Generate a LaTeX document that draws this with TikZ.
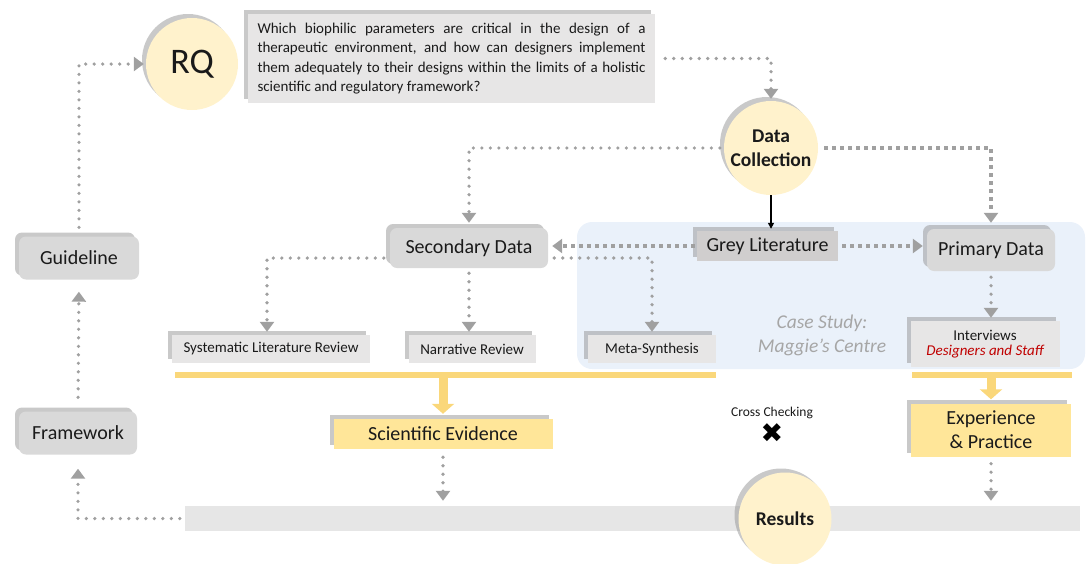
\documentclass[tikz,border=0pt]{standalone}
\usepackage{fontspec}
\setmainfont{Carlito}
\newfontfamily\symfont{DejaVu Sans}
\usetikzlibrary{arrows.meta,shadows,calc}
\definecolor{cream}{HTML}{FFF2CC}
\definecolor{boxgrey}{HTML}{D9D9D9}
\definecolor{lightgrey}{HTML}{E7E6E6}
\definecolor{glgrey}{HTML}{D0CECE}
\definecolor{bluebg}{HTML}{EAF1FA}
\definecolor{ybox}{HTML}{FFE699}
\definecolor{ybar}{HTML}{FAD77A}
\definecolor{dotgrey}{HTML}{A0A0A0}
\definecolor{barfill}{HTML}{E6E6E6}
\definecolor{casegrey}{HTML}{A6A6A6}
\definecolor{redtxt}{HTML}{C00000}
\definecolor{txt}{HTML}{1A1A1A}
\begin{document}
\begin{tikzpicture}[x=1pt,y=-1pt,
  shad/.style={drop shadow={shadow xshift=-4pt, shadow yshift=4pt, opacity=.5, fill=gray!85}},
  circ/.style={circle, fill=cream, shad, align=center, inner sep=0pt, text=txt},
  rbox/.style={rounded corners=7pt, fill=boxgrey, shad, text=txt, inner sep=0pt, font=\fontsize{20}{22}\selectfont},
  lbox/.style={rectangle, fill=lightgrey, shad, text=txt, inner sep=0pt, font=\fontsize{15}{18}\selectfont},
  ylbox/.style={rectangle, fill=ybox, shad, text=txt, inner sep=0pt, align=center, font=\fontsize{20}{24}\selectfont},
  dotline/.style={draw=dotgrey, line width=3.6pt, line cap=round, dash pattern=on 0pt off 8.5pt},
  sqline/.style={draw=dotgrey, line width=4pt, dash pattern=on 4pt off 4pt},
  tip/.style={-{Triangle[width=14pt,length=10pt]}},
  yarrow/.style={draw=ybar, line width=9pt, -{Triangle[width=22pt,length=10pt]}}
]
\useasboundingbox (0,0) rectangle (1086,563);

% light blue case-study region
\fill[bluebg, rounded corners=15pt] (577,222) rectangle (1085,369);
\node[text=casegrey, align=center, font=\fontsize{19.5}{24}\selectfont\itshape] (cs) at (822,335) {Case Study:\\Maggie’s Centre};

% RQ and question
\node[circ, minimum size=92pt, font=\fontsize{36}{40}\selectfont] (rq) at (192,64) {RQ};
\node[rectangle, fill=lightgrey, shad, text=txt, minimum width=407pt, minimum height=89pt, inner xsep=9.5pt, text width=388pt, align=justify, font=\fontsize{15}{19.5}\selectfont] (q) at (451.5,58.5)
 {Which biophilic parameters are critical in the design of a\linebreak therapeutic environment, and how can designers implement\linebreak them adequately to their designs within the limits of a holistic\linebreak scientific and regulatory framework?};

% Data collection
\node[circ, minimum size=94pt, font=\fontsize{19.5}{24}\selectfont\bfseries] (dc) at (771,148) {Data\\Collection};

% second row
\node[rbox, minimum width=158pt, minimum height=40pt] (sd) at (469,248) {Secondary Data};
\node[rectangle, fill=glgrey, shad, text=txt, inner sep=0pt, minimum width=141pt, minimum height=30pt, font=\fontsize{20}{22}\selectfont] (gl) at (767.5,246) {Grey Literature};
\node[rbox, minimum width=128pt, minimum height=42pt] (pd) at (991,250) {Primary Data};

% third row
\node[lbox, minimum width=198pt, minimum height=28pt] (slr) at (271,349) {Systematic Literature Review};
\node[lbox, minimum width=127pt, minimum height=28pt] (nr) at (472,349) {Narrative Review};
\node[lbox, minimum width=128pt, minimum height=28pt] (ms) at (652,349) {Meta-Synthesis};
\node[lbox, minimum width=149pt, minimum height=46pt, align=center, font=\fontsize{15}{18}\selectfont] (iv) at (985,344) {\raisebox{-3pt}{Interviews}\\{\color{redtxt}\itshape Designers and Staff}};

% yellow bars
\node[rectangle, fill=ybar, inner sep=0pt, minimum width=541pt, minimum height=6pt] (bar1) at (445.5,375) {};
\node[rectangle, fill=ybar, inner sep=0pt, minimum width=160pt, minimum height=6pt] (bar2) at (992,375) {};

% evidence boxes
\node[ylbox, minimum width=219pt, minimum height=30pt] (se) at (443,434) {Scientific Evidence};
\node[ylbox, minimum width=160pt, minimum height=53pt] (ep) at (991,430) {Experience\\\& Practice};

% cross checking
\node[text=txt, font=\fontsize{13.5}{15}\selectfont] (cc) at (772,413) {Cross Checking};
\node[text=black, font=\symfont\fontsize{27}{28}\selectfont] (cx) at (772,433) {✖};

% results bar and circle
\node[rectangle, fill=barfill, inner sep=0pt, minimum width=895pt, minimum height=25pt] (bar) at (632.5,518.5) {};
\node[circ, minimum size=93pt, font=\fontsize{19.5}{22}\selectfont\bfseries] (res) at (785,519) {Results};

% left column
\node[rbox, minimum width=120pt, minimum height=43pt] (gd) at (79,258) {Guideline};
\node[rbox, minimum width=118pt, minimum height=43pt] (fw) at (78,433) {Framework};

% connectors
\draw[dotline, tip, shorten <=9pt, shorten >=2pt] (gd.north) |- (rq.west);
\draw[dotline, tip, shorten <=10pt, shorten >=2pt] (q.east) -| (dc.north);
\draw[dotline, tip, shorten <=4pt, shorten >=5pt] (dc.west) -| (sd.north);
\draw[sqline, tip, shorten <=6pt, shorten >=6pt] (dc.east) -| (pd.north);
\draw[black, line width=1.4pt, -{Triangle[width=6pt,length=6pt]}, shorten >=2pt] (dc.south) -- (dc.south |- gl.north);
\draw[sqline, tip, shorten <=2pt, shorten >=4pt] (gl.west) -- (gl.west -| sd.east);
\draw[sqline, tip, shorten <=4pt, shorten >=4pt] (gl.east) -- (gl.east -| pd.west);
\draw[dotline, tip, shorten <=6pt, shorten >=3pt] ([yshift=-10pt]sd.east) -| (ms.north);
\draw[dotline, tip, shorten <=6pt, shorten >=3pt] ([yshift=-10pt]sd.west) -| ([xshift=-4pt]slr.north);
\draw[dotline, tip, shorten <=5pt, shorten >=3pt] (sd.south) -- (sd.south |- nr.north);
\draw[dotline, tip, shorten <=6pt, shorten >=3pt] (pd.south) -- (pd.south |- iv.north);
\draw[yarrow] (bar1.south -| se.north) -- ([yshift=5pt]se.north);
\draw[yarrow] (bar2.south -| ep.north) -- ([yshift=4pt]ep.north);
\draw[dotline, tip, shorten <=8pt, shorten >=5pt] (se.south) -- (se.south |- bar.north);
\draw[dotline, tip, shorten <=7pt, shorten >=5pt] (ep.south) -- (ep.south |- bar.north);
\draw[dotline, tip, shorten <=5pt, shorten >=14pt] (bar.west) -| (fw.south);
\draw[dotline, tip, shorten <=14pt, shorten >=12pt] (fw.north) -- (gd.south);
\end{tikzpicture}
\end{document}
